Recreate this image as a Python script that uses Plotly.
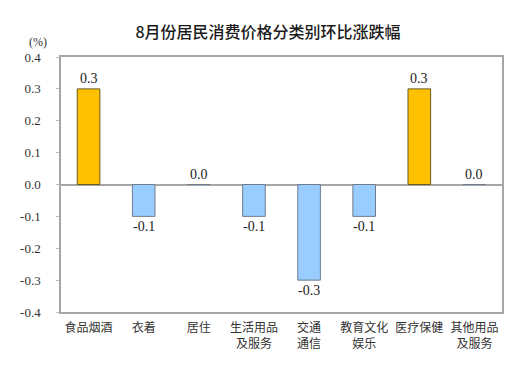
import plotly.graph_objects as go

categories = ["食品烟酒", "衣着", "居住", "生活用品<br>及服务", "交通<br>通信", "教育文化<br>娱乐", "医疗保健", "其他用品<br>及服务"]
values = [0.3, -0.1, 0.0, -0.1, -0.3, -0.1, 0.3, 0.0]
labels = ["0.3", "-0.1", "0.0", "-0.1", "-0.3", "-0.1", "0.3", "0.0"]
y_ticks = [0.4, 0.3, 0.2, 0.1, 0.0, -0.1, -0.2, -0.3, -0.4]
title = "8月份居民消费价格分类别环比涨跌幅"

colors = ["#FFC000" if v > 0 else "#99CCFF" for v in values]
line_colors = ["#6B5A1E" if v > 0 else "#6E7B8B" for v in values]

fig = go.Figure()
fig.add_trace(go.Bar(
    x=categories, y=values,
    marker=dict(color=colors, line=dict(color=line_colors, width=1)),
    width=0.41, hoverinfo="skip"
))

for c, v, t in zip(categories, values, labels):
    fig.add_annotation(x=c, y=v, text=t, showarrow=False,
                       yshift=10 if v >= 0 else -10,
                       font=dict(family="Liberation Serif", size=14, color="#222222"))

fig.add_annotation(xref="paper", yref="paper", x=-0.052, y=1.095, text="(%)", showarrow=False,
                   font=dict(family="Liberation Serif", size=12, color="#333333"), xanchor="center")

fig.update_layout(
    width=520, height=371,
    margin=dict(l=44, r=26, t=49, b=67),
    paper_bgcolor="white", plot_bgcolor="white",
    showlegend=False,
    title=dict(text=title, x=0.5, xanchor="center", y=0.934, yanchor="middle",
               font=dict(family="Noto Sans CJK SC", size=16, color="#1a1a1a", weight=500)),
    xaxis=dict(showline=True, mirror=True, linecolor="#A6A6A6", linewidth=1.5,
               ticks="", tickfont=dict(family="Noto Sans CJK SC", size=12, color="#333333"),
               showgrid=False, tickangle=0, ticklabelstandoff=4),
    yaxis=dict(range=[-0.4, 0.4], tickvals=y_ticks, ticktext=[f"{v:.1f}" for v in y_ticks],
               showline=True, mirror=True, linecolor="#A6A6A6", linewidth=1.5,
               ticks="outside", ticklen=3, tickcolor="#BBBBBB",
               showgrid=False, zeroline=True, zerolinecolor="#A6A6A6", zerolinewidth=1.5,
               ticklabelstandoff=13,
               tickfont=dict(family="Liberation Serif", size=13, color="#333333")),
    bargap=0.59,
)

fig.write_html("out.html")
